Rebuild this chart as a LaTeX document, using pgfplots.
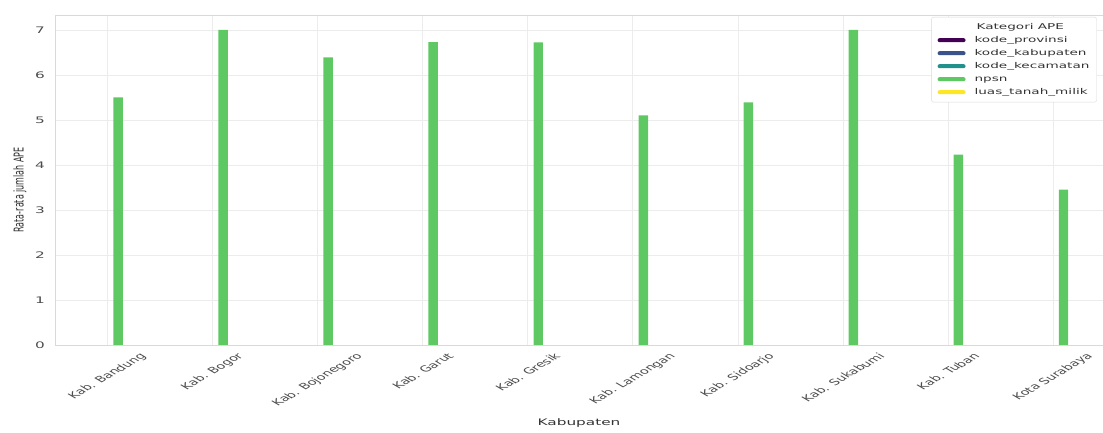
\documentclass[border=0pt]{standalone}
\usepackage{fontspec}
\setmainfont{DejaVu Sans}
\usepackage{graphicx}
\usepackage{pgfplots}
\pgfplotsset{compat=1.18}
\definecolor{vA}{HTML}{440154}
\definecolor{vB}{HTML}{3B528B}
\definecolor{vC}{HTML}{21918C}
\definecolor{vD}{HTML}{5EC962}
\definecolor{vE}{HTML}{FDE725}
\newcommand\hs[1]{\scalebox{1.7}[1]{#1}}
\newcommand\legtxt[1]{\hspace{8pt}\scalebox{1.7}[1]{#1}}
\newcommand\xl[1]{\scalebox{1.7}[1]{\rotatebox{45}{#1}}}
\begin{document}
\begin{tikzpicture}
\begin{axis}[
  scale only axis, width=1048pt, height=330pt,
  ymin=0, ymax=7.33, xmin=-0.5, xmax=9.476,
  xtick={0,...,9},
  xticklabels={\xl{Kab. Bandung},\xl{Kab. Bogor},\xl{Kab. Bojonegoro},\xl{Kab. Garut},\xl{Kab. Gresik},\xl{Kab. Lamongan},\xl{Kab. Sidoarjo},\xl{Kab. Sukabumi},\xl{Kab. Tuban},\xl{Kota Surabaya}},
  xticklabel style={anchor=north, font=\fontsize{8.5}{10}\selectfont, inner sep=0pt, yshift=-7pt, text=black!70},
  ytick={0,...,7},
  yticklabels={\hs{0},\hs{1},\hs{2},\hs{3},\hs{4},\hs{5},\hs{6},\hs{7}},
  yticklabel style={font=\fontsize{9}{10}\selectfont, text=black!70, inner sep=0pt, xshift=-10pt},
  major tick length=0pt,
  grid=major, major grid style={gray!15, line width=0.6pt},
  axis line style={gray!30, line width=0.8pt},
  xlabel={\hs{Kabupaten}}, ylabel={\scalebox{1.7}[1]{\rotatebox{90}{Rata-rata jumlah APE}}},
  xlabel style={font=\fontsize{9}{10}\selectfont, text=black!80, at={(rel axis cs:0.5,0)}, anchor=center, yshift=-78pt},
  ylabel style={font=\fontsize{8}{10}\selectfont, text=black!80, rotate=-90, at={(rel axis cs:0,0.47)}, anchor=center, xshift=-35pt},
  legend style={at={(rel axis cs:0.994,0.994)}, anchor=north east,
    font=\fontsize{8}{9}\selectfont, draw=gray!30, rounded corners=2pt,
    row sep=3pt, inner xsep=6pt, inner ysep=5pt, text=black!80,
    nodes={inner sep=1pt, text height=6pt, text depth=2pt}},
  legend cell align=left,
  legend image code/.code={\fill[#1] (0pt,-2pt) rectangle (28pt,2pt);},
]
\addlegendimage{empty legend}
\addlegendentry{\hspace{10pt}\hs{Kategori APE}}
\addlegendimage{fill=vA, draw=none}
\addlegendentry{\legtxt{kode\_provinsi}}
\addlegendimage{fill=vB, draw=none}
\addlegendentry{\legtxt{kode\_kabupaten}}
\addlegendimage{fill=vC, draw=none}
\addlegendentry{\legtxt{kode\_kecamatan}}
\addplot[ybar, bar width=0.09, bar shift=0.1, fill=vD, draw=none] coordinates {(0,5.50) (1,7.00) (2,6.39) (3,6.73) (4,6.72) (5,5.10) (6,5.39) (7,7.00) (8,4.23) (9,3.45)};
\addlegendentry{\legtxt{npsn}}
\addlegendimage{fill=vE, draw=none}
\addlegendentry{\legtxt{luas\_tanah\_milik}}
\end{axis}
\pgfresetboundingbox
\path[use as bounding box] ([shift={(-55pt,-88pt)}]current axis.south west) rectangle ([shift={(0pt,15pt)}]current axis.north east);
\end{tikzpicture}
\end{document}
